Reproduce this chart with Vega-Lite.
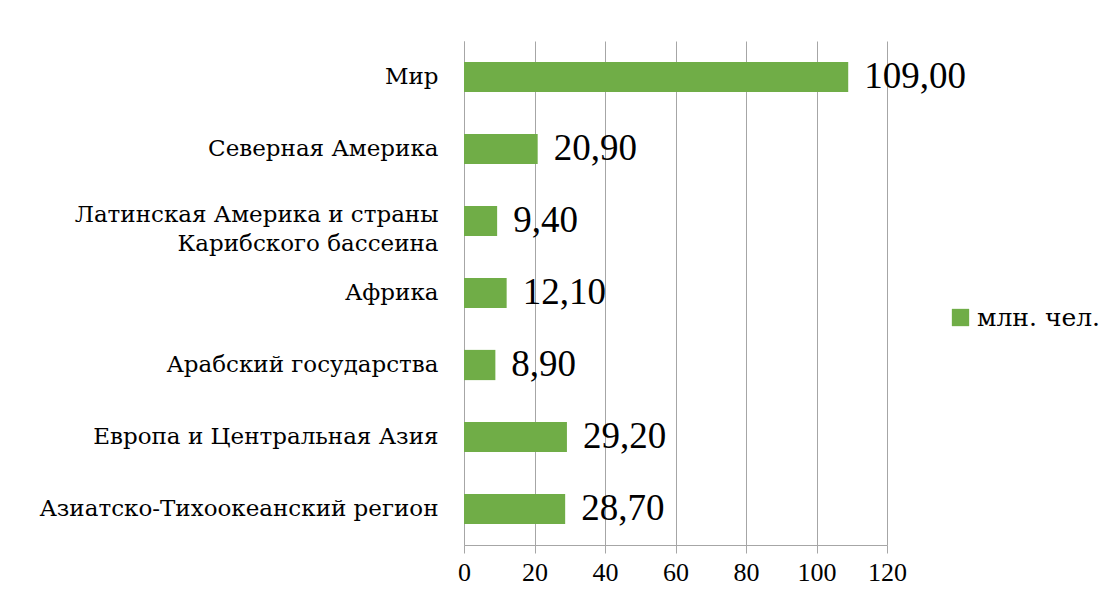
{
  "$schema": "https://vega.github.io/schema/vega-lite/v6.json",
  "width": 423,
  "height": 504,
  "autosize": {"type": "none"},
  "padding": {"left": 464, "top": 41, "right": 226, "bottom": 64},
  "background": "white",
  "config": {
    "locale": {"number": {"decimal": ",", "thousands": " ", "grouping": [3], "currency": ["", ""]}},
    "font": "DejaVu Serif",
    "view": {"stroke": null}
  },
  "data": {
    "values": [
      {"region": "Мир", "value": 109.0, "series": "млн. чел."},
      {"region": "Северная Америка", "value": 20.9, "series": "млн. чел."},
      {"region": "Латинская Америка и страны|Карибского бассеина", "value": 9.4, "series": "млн. чел."},
      {"region": "Африка", "value": 12.1, "series": "млн. чел."},
      {"region": "Арабский государства", "value": 8.9, "series": "млн. чел."},
      {"region": "Европа и Центральная Азия ", "value": 29.2, "series": "млн. чел."},
      {"region": "Азиатско-Тихоокеанский регион", "value": 28.7, "series": "млн. чел."}
    ]
  },
  "encoding": {
    "y": {
      "field": "region", "type": "nominal", "sort": null,
      "scale": {"paddingInner": 0.58, "paddingOuter": 0.29},
      "axis": {
        "title": null, "ticks": false, "labelPadding": 26,
        "labelFontSize": 23, "labelColor": "black", "labelFont": "DejaVu Serif",
        "labelExpr": "split(datum.label, '|')", "labelLineHeight": 29,
        "labelOffset": {"condition": {"test": "indexof(datum.value, '|') >= 0", "value": -6}, "value": 0},
        "domainColor": "#a6a6a6", "labelLimit": 500
      }
    },
    "x": {
      "field": "value", "type": "quantitative",
      "scale": {"domain": [0, 120], "nice": false},
      "axis": {
        "title": null, "values": [0, 20, 40, 60, 80, 100, 120], "format": "d",
        "labelFontSize": 26, "labelColor": "black", "labelFont": "Liberation Serif",
        "labelPadding": 6, "tickSize": 8, "tickColor": "#a6a6a6", "domainColor": "#a6a6a6",
        "gridColor": "#a6a6a6", "grid": true, "labelFlush": false
      }
    }
  },
  "layer": [
    {
      "mark": {"type": "bar", "color": "#70AD47"},
      "encoding": {
        "color": {
          "field": "series", "type": "nominal",
          "scale": {"range": ["#70AD47"]},
          "legend": {
            "title": null, "orient": "none", "legendX": 484, "legendY": 264,
            "symbolType": "square", "symbolSize": 300, "symbolStrokeWidth": 0,
            "labelFontSize": 25, "labelFont": "DejaVu Serif", "labelColor": "black"
          }
        }
      }
    },
    {
      "mark": {"type": "text", "align": "left", "baseline": "middle", "dx": 16, "fontSize": 37, "font": "Liberation Serif", "color": "black"},
      "encoding": {
        "text": {"field": "value", "type": "quantitative", "format": ".2f"}
      }
    }
  ]
}
